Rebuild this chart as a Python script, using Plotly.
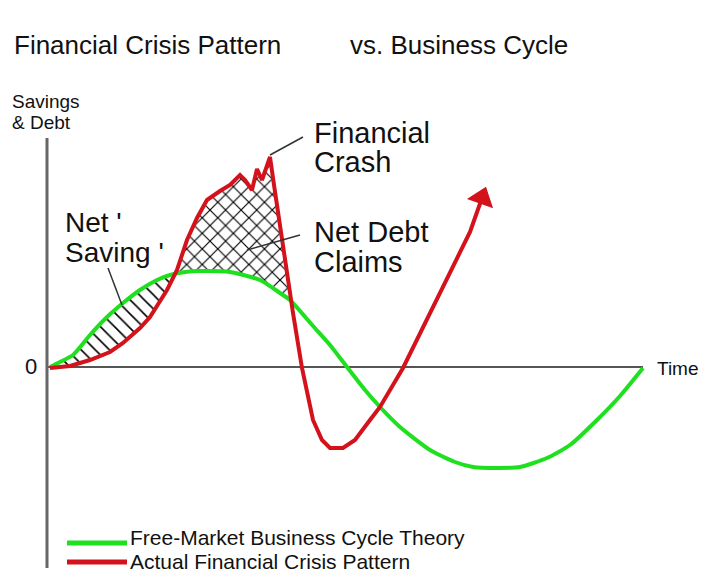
import numpy as np
import plotly.graph_objects as go

W, H = 718, 578
# ---- data (time units along the horizontal axis, value units: + above zero line) ----
green_time = [2, 12, 25, 42, 59, 75, 92, 109, 122, 137, 152, 182, 212, 232, 242, 265, 282, 299,
              317, 332, 352, 382, 407, 425, 452, 472, 499, 522, 549, 572, 595]
green_value = [0, 5, 12, 32, 50, 64, 77, 87, 92, 95, 96, 95, 87, 74, 67, 41, 22, 0,
               -23, -40, -60, -83, -95, -100, -101, -100, -91, -78, -53, -29, -1]

red_time = [2, 22, 42, 62, 75, 92, 102, 112, 119, 129, 139, 149, 159, 172, 182, 192, 197, 204,
            209, 214, 222, 226, 232, 237, 245, 254, 265, 274, 282, 295, 307, 322, 332, 355,
            382, 399, 422, 434]
red_value = [-1, 1, 7, 15, 24, 39, 50, 65, 77, 97, 127, 149, 167, 176, 182, 192, 187, 177,
             198, 187, 210, 182, 142, 102, 54, -1, -53, -73, -81, -81, -73, -53, -40, -1,
             54, 87, 135, 169]

GREEN = "#1fe01f"
RED = "#d3121c"
FONT = "Liberation Sans, Arial, sans-serif"

gt = np.array(green_time, float); gv = np.array(green_value, float)
rt = np.array(red_time, float); rv = np.array(red_value, float)

# regions between the two curves
grid = np.linspace(max(gt[0], rt[0]), 300, 1200)
g_i = np.interp(grid, gt, gv)
r_i = np.interp(grid, rt, rv)
d = r_i - g_i
signs = np.sign(d)
cross = [grid[0]]
for i in range(1, len(grid)):
    if signs[i] != signs[i - 1] and signs[i] != 0 and i > 20:
        cross.append(grid[i])
x_a, x_b, x_c = cross[0], cross[1], cross[2]

fig = go.Figure()

def region(x0, x1, top_t, top_v, bot_t, bot_v, shape, size, solidity):
    xs = np.linspace(x0, x1, 200)
    top = np.interp(xs, top_t, top_v)
    bot = np.interp(xs, bot_t, bot_v)
    fig.add_trace(go.Scatter(
        x=np.concatenate([xs, xs[::-1]]), y=np.concatenate([top, bot[::-1]]),
        mode="lines", line=dict(width=0), fill="toself", fillcolor="white",
        fillpattern=dict(shape=shape, fgcolor="#000000", bgcolor="white", size=size,
                         solidity=solidity, fgopacity=1),
        hoverinfo="skip", showlegend=False))

region(x_a, x_b, gt, gv, rt, rv, "\\", 10, 0.16)
region(x_b, x_c, rt, rv, gt, gv, "x", 11, 0.2)

fig.add_trace(go.Scatter(x=green_time, y=green_value, mode="lines", name="Free-Market Business Cycle Theory",
                         line=dict(color=GREEN, width=4, shape="spline", smoothing=0.6), showlegend=False))
fig.add_trace(go.Scatter(x=red_time, y=red_value, mode="lines", name="Actual Financial Crisis Pattern",
                         line=dict(color=RED, width=4), showlegend=False))
# arrow head at the end of the red path, oriented along the last segment
fig.add_trace(go.Scatter(x=red_time[-2:], y=red_value[-2:], mode="markers",
                         marker=dict(symbol="triangle-up", size=[0, 24], color=RED, opacity=1,
                                     angleref="previous", line=dict(width=0)),
                         hoverinfo="skip", showlegend=False))

X0 = 48   # pixel of time 0
Y0 = 367  # pixel of value 0
fig.update_xaxes(visible=False, range=[-X0, W - X0], fixedrange=True)
fig.update_yaxes(visible=False, range=[Y0 - H, Y0], fixedrange=True)

def pp(px, py):
    return px / W, 1 - py / H

shapes = []
def pline(x0, y0, x1, y1, color, width):
    a = pp(x0, y0); b = pp(x1, y1)
    shapes.append(dict(type="line", xref="paper", yref="paper", x0=a[0], y0=a[1], x1=b[0], y1=b[1],
                       line=dict(color=color, width=width), layer="above"))

# axes
shapes.append(dict(type="line", xref="x", yref="y", x0=0, x1=595, y0=0, y1=0,
                   line=dict(color="#555555", width=2), layer="below"))
pline(47, 138, 47, 568, "#666666", 3)
# leader lines
pline(303, 137, 270, 155, "#333333", 1.5)
pline(300, 235, 247, 250, "#333333", 1.5)
pline(108, 268, 122, 305, "#333333", 1.5)
# legend samples
pline(67, 543, 127, 543, GREEN, 5)
pline(67, 562, 127, 562, RED, 5)

anns = []
def ann(text, px, py, size, xanchor="left"):
    x, y = pp(px, py)
    anns.append(dict(text=text, x=x, y=y, xref="paper", yref="paper", xanchor=xanchor, yanchor="middle",
                     showarrow=False, align="left", borderpad=0,
                     font=dict(family=FONT, size=size, color="#111111")))

ann("Financial Crisis Pattern", 13, 45, 26)
ann("vs. Business Cycle", 349, 45, 26)
ann("Savings", 11, 101, 19)
ann("& Debt", 11, 122, 19)
ann("0", 38, 366, 22, "right")
ann("Time", 656, 368, 19)
ann("Financial", 313, 133, 29)
ann("Crash", 313, 162, 29)
ann("Net Debt", 313, 232, 29)
ann("Claims", 313, 262, 29)
ann("Net '", 64, 222, 28)
ann("Saving '", 64, 252, 28)
ann("Free-Market Business Cycle Theory", 129, 537, 21)
ann("Actual Financial Crisis Pattern", 129, 561, 21)

fig.update_layout(width=W, height=H, margin=dict(l=0, r=0, t=0, b=0),
                  paper_bgcolor="white", plot_bgcolor="white",
                  shapes=shapes, annotations=anns, showlegend=False)
fig.write_html("out.html", config={"displayModeBar": False},
               post_script="document.body.style.margin='0px';document.body.style.padding='0px';")
